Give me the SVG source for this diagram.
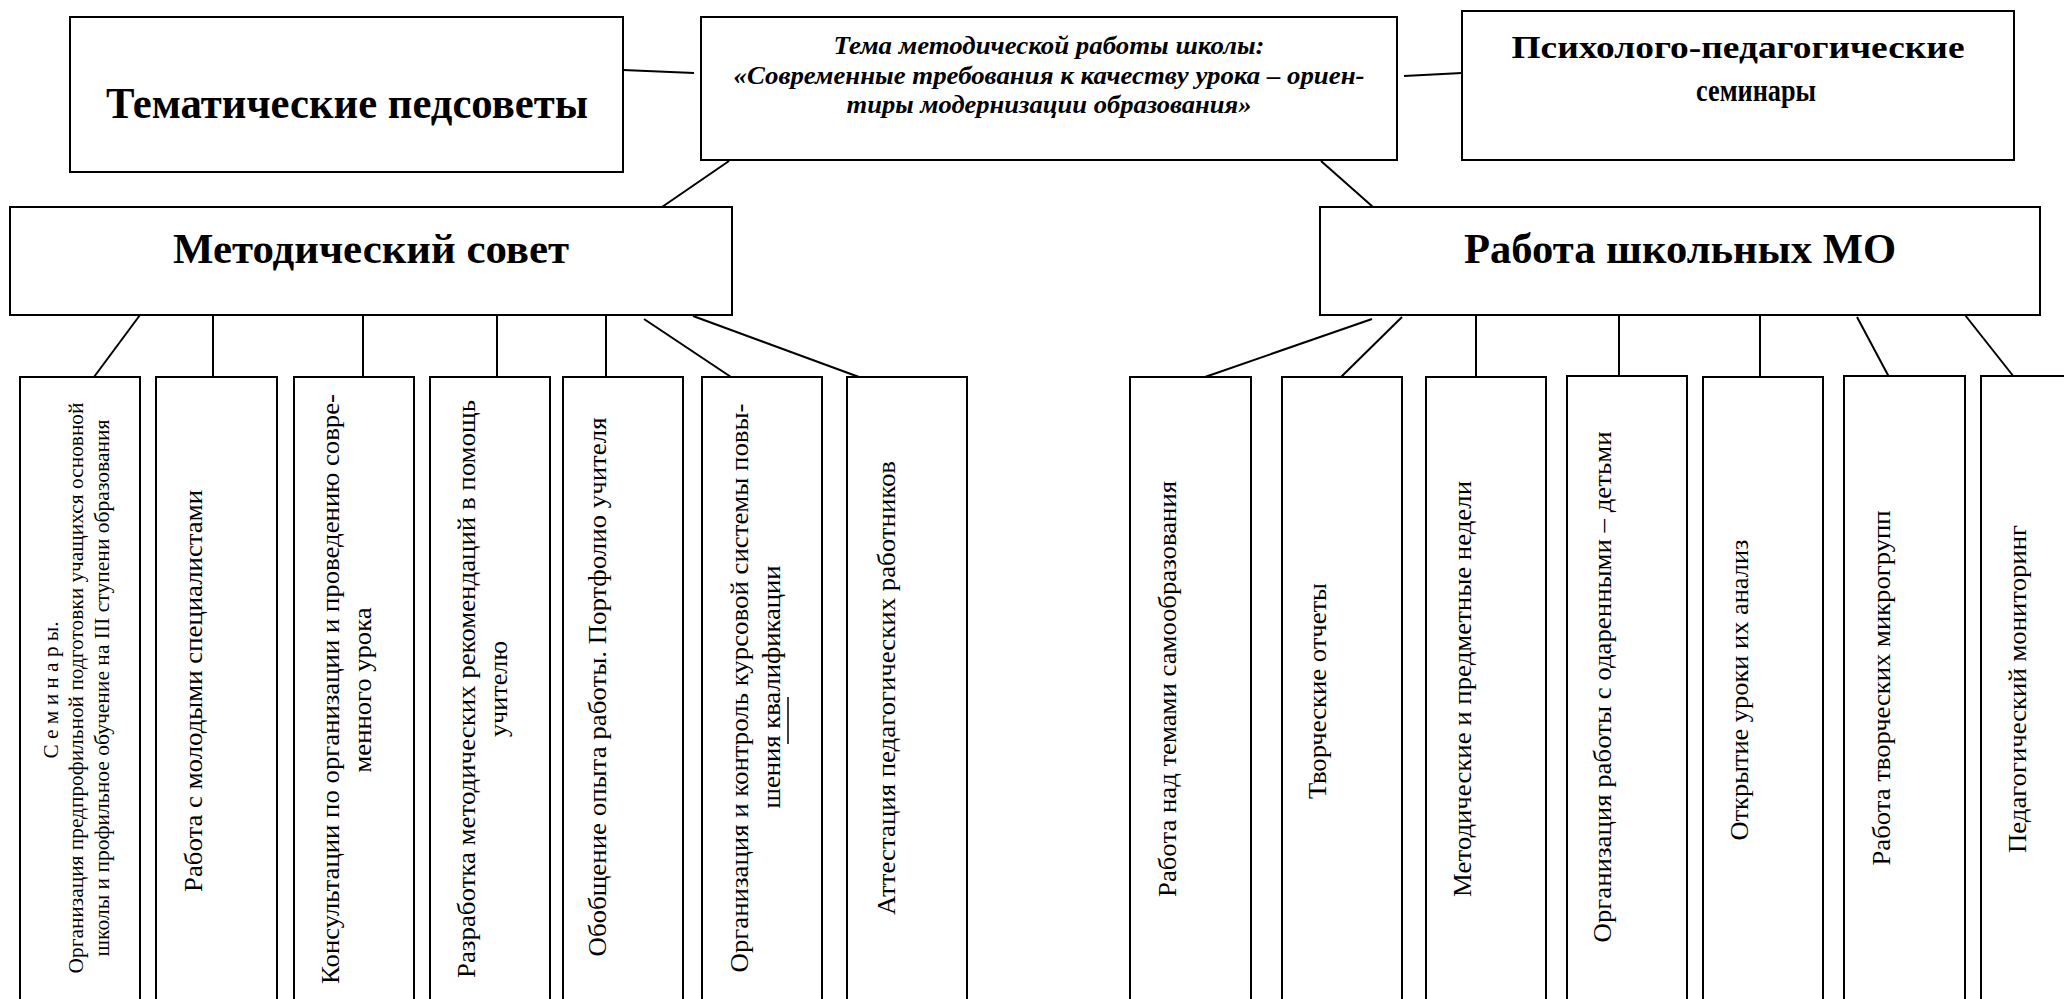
<svg xmlns="http://www.w3.org/2000/svg" width="2064" height="999" viewBox="0 0 2064 999">
<style>
.box{fill:#fff;stroke:#000;stroke-width:2}
.ln{stroke:#000;stroke-width:2;fill:none}
.t{font-family:"Liberation Serif","Times New Roman",serif;fill:#000}
.hb{font-weight:bold;text-anchor:middle}
.hi{font-weight:bold;font-style:italic;text-anchor:middle;font-size:26px}
.v{font-size:26px;text-anchor:middle}
.vs{font-size:20px;text-anchor:middle}
</style>
<rect width="2064" height="999" fill="#fff"/>
<g id="connectors">
<line class="ln" x1="623" y1="70" x2="694" y2="73"/>
<line class="ln" x1="729" y1="161" x2="662" y2="207"/>
<line class="ln" x1="1404" y1="76" x2="1462" y2="73"/>
<line class="ln" x1="1321" y1="161" x2="1373" y2="207"/>
<line class="ln" x1="140" y1="315" x2="94" y2="377"/>
<line class="ln" x1="213" y1="315" x2="213" y2="377"/>
<line class="ln" x1="363" y1="309" x2="363" y2="377"/>
<line class="ln" x1="497" y1="315" x2="497" y2="377"/>
<line class="ln" x1="606" y1="315" x2="606" y2="377"/>
<line class="ln" x1="644" y1="319" x2="731" y2="377"/>
<line class="ln" x1="693" y1="316" x2="859" y2="377"/>
<line class="ln" x1="1372" y1="319" x2="1205" y2="377"/>
<line class="ln" x1="1402" y1="317" x2="1341" y2="377"/>
<line class="ln" x1="1476" y1="315" x2="1476" y2="377"/>
<line class="ln" x1="1619" y1="315" x2="1619" y2="377"/>
<line class="ln" x1="1760" y1="307" x2="1760" y2="377"/>
<line class="ln" x1="1857" y1="317" x2="1889" y2="377"/>
<line class="ln" x1="1965" y1="315" x2="2014" y2="377"/>
</g>
<g id="tematicheskie">
<rect class="box" x="70" y="17" width="553" height="155"/>
<text class="t hb" x="347" y="118" font-size="44" textLength="482" lengthAdjust="spacingAndGlyphs">Тематические педсоветы</text>
</g>
<g id="tema">
<rect class="box" x="701" y="17" width="696" height="143"/>
<text class="t hi" x="1049" y="54" textLength="431" lengthAdjust="spacingAndGlyphs">Тема методической работы школы:</text>
<text class="t hi" x="1049" y="84" textLength="631" lengthAdjust="spacingAndGlyphs">«Современные требования к качеству урока – ориен-</text>
<text class="t hi" x="1049" y="113" textLength="405" lengthAdjust="spacingAndGlyphs">тиры модернизации образования»</text>
</g>
<g id="psiholog">
<rect class="box" x="1462" y="11" width="552" height="149"/>
<text class="t hb" x="1738" y="58" font-size="32" textLength="453" lengthAdjust="spacingAndGlyphs">Психолого-педагогические</text>
<text class="t hb" x="1756" y="101" font-size="32" textLength="120" lengthAdjust="spacingAndGlyphs">семинары</text>
</g>
<g id="metsovet">
<rect class="box" x="10" y="207" width="722" height="108"/>
<text class="t hb" x="371" y="263" font-size="42" textLength="396" lengthAdjust="spacingAndGlyphs">Методический совет</text>
</g>
<g id="shkmo">
<rect class="box" x="1320" y="207" width="720" height="108"/>
<text class="t hb" x="1680" y="263" font-size="43" textLength="432" lengthAdjust="spacingAndGlyphs">Работа школьных МО</text>
</g>
<g id="l1">
<rect class="box" x="20" y="377" width="120" height="660"/>
<text class="t vs" transform="translate(58,690) rotate(-90)" textLength="137" lengthAdjust="spacingAndGlyphs">С е м и н а р ы.</text>
<text class="t vs" transform="translate(83,688) rotate(-90)" textLength="571" lengthAdjust="spacingAndGlyphs">Организация предпрофильной подготовки учащихся основной</text>
<text class="t vs" transform="translate(109,688) rotate(-90)" textLength="537" lengthAdjust="spacingAndGlyphs">школы и профильное обучение на  III ступени образования</text>
</g>
<g id="l2">
<rect class="box" x="156" y="377" width="121" height="660"/>
<text class="t v" transform="translate(202,691) rotate(-90)" textLength="402" lengthAdjust="spacingAndGlyphs">Работа с молодыми специалистами</text>
</g>
<g id="l3">
<rect class="box" x="294" y="377" width="120" height="660"/>
<text class="t v" transform="translate(339,689) rotate(-90)" textLength="590" lengthAdjust="spacingAndGlyphs">Консультации по организации и проведению совре-</text>
<text class="t v" transform="translate(371,690) rotate(-90)" textLength="165" lengthAdjust="spacingAndGlyphs">менного урока</text>
</g>
<g id="l4">
<rect class="box" x="430" y="377" width="120" height="660"/>
<text class="t v" transform="translate(475,689) rotate(-90)" textLength="578" lengthAdjust="spacingAndGlyphs">Разработка методических рекомендаций в помощь</text>
<text class="t v" transform="translate(507,689) rotate(-90)" textLength="96" lengthAdjust="spacingAndGlyphs">учителю</text>
</g>
<g id="l5">
<rect class="box" x="563" y="377" width="120" height="660"/>
<text class="t v" transform="translate(606,687) rotate(-90)" textLength="539" lengthAdjust="spacingAndGlyphs">Обобщение опыта работы. Портфолио учителя</text>
</g>
<g id="l6">
<rect class="box" x="702" y="377" width="120" height="660"/>
<text class="t v" transform="translate(748,688) rotate(-90)" textLength="569" lengthAdjust="spacingAndGlyphs">Организация и контроль курсовой системы повы-</text>
<text class="t v" transform="translate(780,687) rotate(-90)" textLength="243" lengthAdjust="spacingAndGlyphs">шения квалификации</text>
<line x1="788" y1="697" x2="788" y2="744" stroke="#000" stroke-width="1.5"/>
</g>
<g id="l7">
<rect class="box" x="847" y="377" width="120" height="660"/>
<text class="t v" transform="translate(895,688) rotate(-90)" textLength="454" lengthAdjust="spacingAndGlyphs">Аттестация педагогических работников</text>
</g>
<g id="r1">
<rect class="box" x="1130" y="377" width="121" height="660"/>
<text class="t v" transform="translate(1176,689) rotate(-90)" textLength="416" lengthAdjust="spacingAndGlyphs">Работа над темами самообразования</text>
</g>
<g id="r2">
<rect class="box" x="1282" y="377" width="120" height="660"/>
<text class="t v" transform="translate(1326,691) rotate(-90)" textLength="216" lengthAdjust="spacingAndGlyphs">Творческие отчеты</text>
</g>
<g id="r3">
<rect class="box" x="1426" y="377" width="120" height="660"/>
<text class="t v" transform="translate(1471,689) rotate(-90)" textLength="416" lengthAdjust="spacingAndGlyphs">Методические и предметные недели</text>
</g>
<g id="r4">
<rect class="box" x="1567" y="376" width="120" height="660"/>
<text class="t v" transform="translate(1611,687) rotate(-90)" textLength="511" lengthAdjust="spacingAndGlyphs">Организация работы с одаренными – детьми</text>
</g>
<g id="r5">
<rect class="box" x="1703" y="377" width="120" height="660"/>
<text class="t v" transform="translate(1748,690) rotate(-90)" textLength="301" lengthAdjust="spacingAndGlyphs">Открытие уроки их анализ</text>
</g>
<g id="r6">
<rect class="box" x="1844" y="376" width="121" height="660"/>
<text class="t v" transform="translate(1890,688) rotate(-90)" textLength="355" lengthAdjust="spacingAndGlyphs">Работа творческих микрогрупп</text>
</g>
<g id="r7">
<rect class="box" x="1981" y="376" width="120" height="660"/>
<text class="t v" transform="translate(2026,689) rotate(-90)" textLength="328" lengthAdjust="spacingAndGlyphs">Педагогический мониторинг</text>
</g>
</svg>
